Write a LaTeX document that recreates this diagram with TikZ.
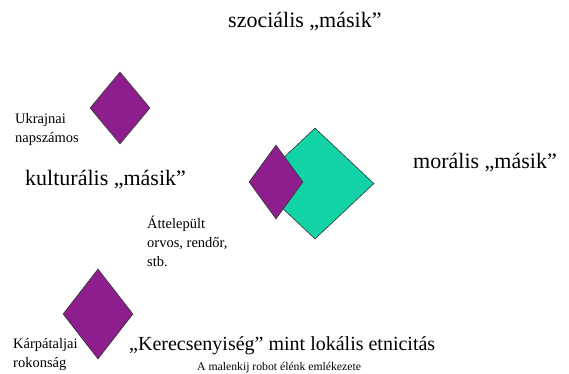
\documentclass[tikz,border=0pt]{standalone}
\usepackage{fontspec}
\setmainfont{Liberation Serif}
\usetikzlibrary{shapes.geometric}
\definecolor{dpurple}{RGB}{142,29,142}
\definecolor{dteal}{RGB}{17,211,166}
\tikzset{
  gem/.style={shape=diamond, draw=black!80, line width=0.6pt, inner sep=0pt},
  bigtxt/.style={inner sep=0pt, anchor=base west, font=\fontsize{22}{26}\selectfont},
  midtxt/.style={inner sep=0pt, anchor=base west, font=\fontsize{20}{24}\selectfont},
  smalltxt/.style={inner sep=0pt, anchor=base west, align=left, font=\fontsize{14.5}{19}\selectfont},
  tinytxt/.style={inner sep=0pt, anchor=base west, font=\fontsize{11.7}{14}\selectfont}
}
\begin{document}
\begin{tikzpicture}[x=1pt,y=-1pt]
\useasboundingbox (0,0) rectangle (569,373);
% diamonds
\node[gem, fill=dpurple, minimum width=60, minimum height=72] (d1) at (120,108) {};
\node[gem, fill=dteal, minimum width=118, minimum height=111] (t1) at (315,183.5) {};
\node[gem, fill=dpurple, minimum width=54, minimum height=74] (d2) at (276,182) {};
\node[gem, fill=dpurple, minimum width=70, minimum height=90] (d3) at (98,314) {};
% texts (base anchor of a multi-line node is its last line)
\node[bigtxt] (soc) at (228,27) {szociális „másik”};
\node[bigtxt] (kul) at (25,185) {kulturális „másik”};
\node[bigtxt] (mor) at (413,168) {morális „másik”};
\node[smalltxt] (ukr) at (15,142) {Ukrajnai\\napszámos};
\node[smalltxt] (att) at (147,266) {Áttelepült\\orvos, rendőr,\\stb.};
\node[smalltxt] (kar) at (13,367) {Kárpátaljai\\rokonság};
\node[midtxt] (ker) at (129,350) {„Kerecsenyiség” mint lokális etnicitás};
\node[tinytxt] (mal) at (197,370) {A malenkij robot élénk emlékezete};
\end{tikzpicture}
\end{document}
